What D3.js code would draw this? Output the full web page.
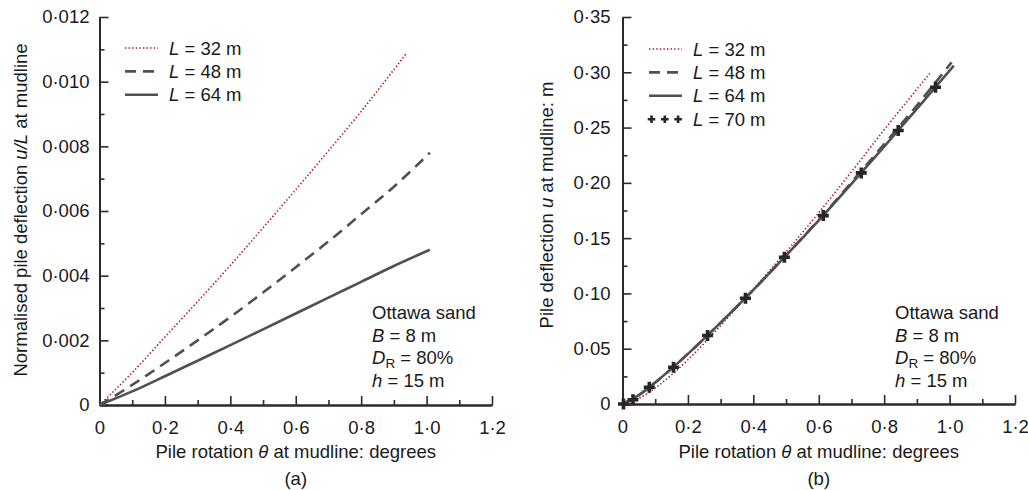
<!DOCTYPE html>
<html>
<head>
<meta charset="utf-8">
<script src="https://cdn.jsdelivr.net/npm/d3@7"></script>
<style>
  body { margin: 0; background: #fff; }
  text { font-family: "Liberation Sans", Arial, sans-serif; fill: #1a1a1a; }
</style>
</head>
<body>
<svg id="chart" width="1028" height="490"></svg>
<script>
// panel (a): normalised deflection u/L vs rotation
var thA32 = [0, 0.1, 0.2, 0.3, 0.4, 0.5, 0.6, 0.7, 0.8, 0.94];
var uLA32 = [0, 0.0010, 0.0021, 0.0032, 0.00432, 0.00548, 0.00666, 0.00786, 0.00908, 0.0109];
var thA48 = [0, 0.1, 0.2, 0.3, 0.4, 0.5, 0.6, 0.7, 0.8, 0.9, 1.01];
var uLA48 = [0, 0.00062, 0.0013, 0.0020, 0.00272, 0.00348, 0.00426, 0.00506, 0.0059, 0.00675, 0.0078];
var thA64 = [0, 0.1, 0.2, 0.3, 0.4, 0.5, 0.6, 0.7, 0.8, 0.9, 1.01];
var uLA64 = [0, 0.00042, 0.00089, 0.00137, 0.00185, 0.00234, 0.00283, 0.00332, 0.00381, 0.0043, 0.0048];

// panel (b): deflection u (m) vs rotation
var thB32 = [0, 0.05, 0.1, 0.2, 0.3, 0.4, 0.5, 0.6, 0.7, 0.8, 0.94];
var uB32  = [0, 0.005, 0.0145, 0.040, 0.071, 0.104, 0.1375, 0.173, 0.210, 0.248, 0.299];
var thB48 = [0, 0.05, 0.1, 0.2, 0.3, 0.4, 0.5, 0.6, 0.7, 0.8, 0.9, 1.006];
var uB48  = [0, 0.008, 0.0194, 0.0453, 0.0736, 0.1032, 0.1345, 0.1665, 0.2005, 0.235, 0.270, 0.309];
var thB64 = [0, 0.05, 0.1, 0.2, 0.3, 0.4, 0.5, 0.6, 0.7, 0.8, 0.9, 1.013];
var uB64  = [0, 0.008, 0.0194, 0.0453, 0.0736, 0.1032, 0.1343, 0.166, 0.199, 0.2327, 0.2669, 0.306];
var thB70 = [0.003, 0.032, 0.082, 0.156, 0.26, 0.376, 0.495, 0.614, 0.73, 0.843, 0.957];
var uB70  = [0, 0.0038, 0.0152, 0.0333, 0.0619, 0.0957, 0.1327, 0.1704, 0.209, 0.2473, 0.2864];

var xTicks = [0, 0.2, 0.4, 0.6, 0.8, 1.0, 1.2];
var xTickLabels = ["0", "0·2", "0·4", "0·6", "0·8", "1·0", "1·2"];
var yTicksA = [0, 0.002, 0.004, 0.006, 0.008, 0.010, 0.012];
var yTickLabelsA = ["0", "0·002", "0·004", "0·006", "0·008", "0·010", "0·012"];
var yTicksB = [0, 0.05, 0.10, 0.15, 0.20, 0.25, 0.30, 0.35];
var yTickLabelsB = ["0", "0·05", "0·10", "0·15", "0·20", "0·25", "0·30", "0·35"];
var legendA = ["32", "48", "64"];
var legendB = ["32", "48", "64", "70"];

var grey = "#505050", red = "#b3131b", axisCol = "#2b2b2b";
var styles = {
  "32": {stroke: red, width: 1.6, dash: "1.4,2.2"},
  "48": {stroke: grey, width: 2.6, dash: "11,7"},
  "64": {stroke: grey, width: 2.6, dash: null}
};

var svg = d3.select("#chart");

function zip(a, b) { return a.map(function(d, i) { return [d, b[i]]; }); }

function drawPanel(o) {
  var x = d3.scaleLinear().domain([0, 1.2]).range(o.xr);
  var y = d3.scaleLinear().domain(o.yd).range(o.yr);
  var g = svg.append("g");

  // minor ticks
  var xMinor = d3.range(0.1, 1.2, 0.2);
  g.append("g").attr("transform", "translate(0," + o.yr[0] + ")")
    .call(d3.axisBottom(x).tickValues(xMinor).tickSize(-5).tickFormat("").tickSizeOuter(0));
  g.append("g").attr("transform", "translate(" + o.xr[0] + ",0)")
    .call(d3.axisLeft(y).tickValues(o.yMinor).tickSize(-5).tickFormat("").tickSizeOuter(0));

  g.append("g").attr("transform", "translate(0," + o.yr[0] + ")")
    .call(d3.axisBottom(x).tickValues(xTicks).tickSize(-9).tickSizeOuter(0).tickPadding(16)
      .tickFormat(function(d, i) { return xTickLabels[i]; }));
  g.append("g").attr("transform", "translate(" + o.xr[0] + ",0)")
    .call(d3.axisLeft(y).tickValues(o.yt).tickSize(-9).tickSizeOuter(0).tickPadding(o.pad)
      .tickFormat(function(d, i) { return o.yl[i]; }));

  g.selectAll(".domain").attr("stroke", axisCol).attr("stroke-width", 2);
  g.selectAll(".tick line").attr("stroke", axisCol).attr("stroke-width", 1.6);
  g.selectAll(".tick text").style("font-size", "18.5px")
    .style("font-family", "'Liberation Sans', Arial, sans-serif").attr("fill", "#1a1a1a");

  var line = d3.line().x(function(d) { return x(d[0]); }).y(function(d) { return y(d[1]); })
    .curve(d3.curveMonotoneX);

  o.series.forEach(function(s) {
    var st = styles[s.key];
    g.append("path").datum(zip(s.th, s.u))
      .attr("d", line).attr("fill", "none")
      .attr("stroke", st.stroke).attr("stroke-width", st.width)
      .attr("stroke-dasharray", st.dash);
  });

  if (o.marks) {
    g.selectAll(".mk").data(zip(o.marks.th, o.marks.u)).enter().append("path")
      .attr("transform", function(d) { return "translate(" + x(d[0]) + "," + y(d[1]) + ")"; })
      .attr("d", "M-5.5,0H5.5M0,-5.5V5.5")
      .attr("stroke", "#262626").attr("stroke-width", 3.6);
  }

  // legend
  o.legend.forEach(function(k, i) {
    var ly = o.legY + i * 23.4;
    if (k === "70") {
      [0, 13.3, 26.6].forEach(function(dx) {
        g.append("path").attr("transform", "translate(" + (o.legX + 2.5 + dx) + "," + ly + ")")
          .attr("d", "M-3.8,0H3.8M0,-3.8V3.8").attr("stroke", "#262626").attr("stroke-width", 2.6);
      });
    } else {
      var st = styles[k];
      g.append("line").attr("x1", o.legX).attr("x2", o.legX + 33).attr("y1", ly).attr("y2", ly)
        .attr("stroke", st.stroke).attr("stroke-width", st.width).attr("stroke-dasharray", st.dash);
    }
    var t = g.append("text").attr("x", o.legX + 44).attr("y", ly + 6.5).style("font-size", "18.5px");
    t.append("tspan").style("font-style", "italic").text("L");
    t.append("tspan").text(" = " + k + " m");
  });

  // annotation
  var ax = o.annX, ay = 319;
  g.append("text").attr("x", ax).attr("y", ay).style("font-size", "18.5px").text("Ottawa sand");
  var t2 = g.append("text").attr("x", ax).attr("y", ay + 22.5).style("font-size", "18.5px");
  t2.append("tspan").style("font-style", "italic").text("B");
  t2.append("tspan").text(" = 8 m");
  var t3 = g.append("text").attr("x", ax).attr("y", ay + 45).style("font-size", "18.5px");
  t3.append("tspan").style("font-style", "italic").text("D");
  t3.append("tspan").attr("dy", 4).style("font-size", "13.5px").text("R");
  t3.append("tspan").attr("dy", -4).text(" = 80%");
  var t4 = g.append("text").attr("x", ax).attr("y", ay + 67.5).style("font-size", "18.5px");
  t4.append("tspan").style("font-style", "italic").text("h");
  t4.append("tspan").text(" = 15 m");

  // axis titles
  var xm = (o.xr[0] + o.xr[1]) / 2;
  var xt = g.append("text").attr("x", xm).attr("y", 458).attr("text-anchor", "middle").style("font-size", "18.5px");
  xt.append("tspan").text("Pile rotation ");
  xt.append("tspan").style("font-style", "italic").text("θ");
  xt.append("tspan").text(" at mudline: degrees");
  g.append("text").attr("x", xm).attr("y", 485).attr("text-anchor", "middle").style("font-size", "18.5px").text(o.tag);

  var yt = g.append("text").attr("transform", "translate(" + o.ytX + "," + o.ytY + ") rotate(-90)")
    .attr("text-anchor", "middle").style("font-size", "18.5px");
  o.ytitle.forEach(function(p) {
    yt.append("tspan").style("font-style", p[1] ? "italic" : "normal").text(p[0]);
  });
}

drawPanel({
  xr: [99.5, 492], yd: [0, 0.012], yr: [405, 17],
  yt: yTicksA, yl: yTickLabelsA, yMinor: d3.range(0.001, 0.012, 0.002), pad: 10,
  series: [{key: "32", th: thA32, u: uLA32}, {key: "48", th: thA48, u: uLA48}, {key: "64", th: thA64, u: uLA64}],
  legend: legendA, legX: 125, legY: 48,
  annX: 372, tag: "(a)",
  ytX: 27, ytY: 210,
  ytitle: [["Normalised pile deflection ", false], ["u/L", true], [" at mudline", false]]
});

drawPanel({
  xr: [622.5, 1015], yd: [0, 0.35], yr: [404, 17],
  yt: yTicksB, yl: yTickLabelsB, yMinor: d3.range(0.025, 0.35, 0.05), pad: 12,
  series: [{key: "32", th: thB32, u: uB32}, {key: "48", th: thB48, u: uB48}, {key: "64", th: thB64, u: uB64}],
  marks: {th: thB70, u: uB70},
  legend: legendB, legX: 649, legY: 49,
  annX: 895, tag: "(b)",
  ytX: 553, ytY: 205,
  ytitle: [["Pile deflection ", false], ["u", true], [" at mudline: m", false]]
});
</script>
</body>
</html>
